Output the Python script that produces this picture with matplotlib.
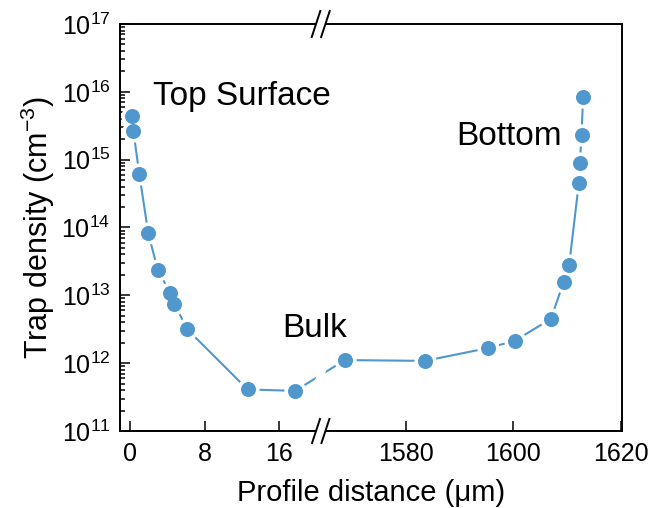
import numpy as np
import matplotlib.pyplot as plt
from matplotlib.ticker import LogLocator, NullFormatter, FixedLocator

plt.rcParams['font.family'] = 'Liberation Sans'
plt.rcParams['mathtext.fontset'] = 'custom'
plt.rcParams['mathtext.rm'] = 'Liberation Sans'
plt.rcParams['mathtext.it'] = 'Liberation Sans:italic'
plt.rcParams['mathtext.bf'] = 'Liberation Sans:bold'

# profile depth (um) and trap density (cm^-3)
depth = [0.18, 0.36, 1.0, 1.96, 2.97, 4.29, 4.75, 6.14, 12.6, 17.7,
         1568.6, 1583.5, 1595.3, 1600.3, 1607.0, 1609.4, 1610.4,
         1612.2, 1612.4, 1612.7, 1613.0]
density = [4.4e15, 2.67e15, 6.1e14, 8.2e13, 2.4e13, 1.09e13, 7.5e12, 3.15e12,
           4.1e11, 3.9e11, 1.11e12, 1.08e12, 1.67e12, 2.14e12, 4.5e12,
           1.59e13, 2.8e13, 4.5e14, 8.8e14, 2.3e15, 8.5e15]

x_ticks = [0, 8, 16, 1580, 1600, 1620]
left_lim = (-1.07, 20.44)     # front part of the sample
right_lim = (1564.1, 1620.3)  # back part of the sample
k = 0.575                     # right part is squeezed

blue = '#4f97cd'


def fwd(x):
    x = np.asarray(x, float)
    return np.where(x <= left_lim[1], x,
                    left_lim[1] + np.clip(x - right_lim[0], 0, None) * k)


def inv(u):
    u = np.asarray(u, float)
    return np.where(u <= left_lim[1], u, right_lim[0] + (u - left_lim[1]) / k)


fig = plt.figure(figsize=(6.54, 5.08), dpi=100)
ax = fig.add_axes([0.1835, 0.1516, 0.768, 0.8012])

ax.set_xscale('function', functions=(fwd, inv))
ax.set_yscale('log')
ax.set_xlim(left_lim[0], right_lim[1])
ax.set_ylim(1e11, 1e17)

ax.plot(depth, density, color=blue, lw=1.5, zorder=2)
ax.plot(depth, density, 'o', color='white', ms=16, mew=0, zorder=3)
ax.plot(depth, density, 'o', color=blue, ms=10.8, mew=0, zorder=4)

ax.xaxis.set_major_locator(FixedLocator(x_ticks))
ax.set_xticklabels([str(t) for t in x_ticks])
ax.yaxis.set_major_locator(LogLocator(base=10, numticks=20))
ax.yaxis.set_minor_locator(LogLocator(base=10, subs=np.arange(2, 10), numticks=20))
ax.yaxis.set_minor_formatter(NullFormatter())

ax.tick_params(which='both', direction='in', top=False, right=False,
               labelsize=18, width=1.1, pad=7)
ax.tick_params(axis='x', pad=8)
ax.tick_params(which='major', length=7.5)
ax.tick_params(which='minor', length=3.5)
for s in ax.spines.values():
    s.set_linewidth(1.4)

ax.set_xlabel('Profile distance (\u03bcm)', fontsize=21, labelpad=9)
ax.set_ylabel('Trap density (cm$^{-3}$)', fontsize=22, labelpad=3)

ax.text(0.0657, 0.8, 'Top Surface', transform=ax.transAxes, fontsize=24)
ax.text(0.669, 0.703, 'Bottom', transform=ax.transAxes, fontsize=24)
ax.text(0.3225, 0.231, 'Bulk', transform=ax.transAxes, fontsize=24)

# axis break marks
ax_w = 502.3
ax_h = 407.0
span = fwd(right_lim[1]) - fwd(left_lim[0])
xb = float((fwd(left_lim[1]) - fwd(left_lim[0])) / span)


def draw_break(xa, ya, half_h, gap, black=True):
    hx = 0.33 * half_h / ax_w
    hy = half_h / ax_h
    g = gap / ax_w
    poly = [(xa - g - hx, ya - hy), (xa - g + hx, ya + hy),
            (xa + g + hx, ya + hy), (xa + g - hx, ya - hy)]
    ax.add_patch(plt.Polygon(poly, closed=True, facecolor='white', edgecolor='none',
                             transform=ax.transAxes, clip_on=False, zorder=5))
    if black:
        for d in (-g, g):
            ax.plot([xa + d - hx, xa + d + hx], [ya - hy, ya + hy], color='black',
                    lw=1.4, transform=ax.transAxes, clip_on=False, zorder=6)


draw_break(xb, 1.0, 13, 4.7)
draw_break(xb, 0.0, 12, 4.7)

# gap in the profile line where it crosses the break
i = max(j for j, d in enumerate(depth) if d <= left_lim[1])
p0 = ax.transAxes.inverted().transform(ax.transData.transform((depth[i], density[i])))
p1 = ax.transAxes.inverted().transform(ax.transData.transform((depth[i + 1], density[i + 1])))
yb = p0[1] + (p1[1] - p0[1]) * (xb - p0[0]) / (p1[0] - p0[0])
draw_break(xb, yb, 8, 4.0, black=False)

fig.savefig('out.png', dpi=100)
